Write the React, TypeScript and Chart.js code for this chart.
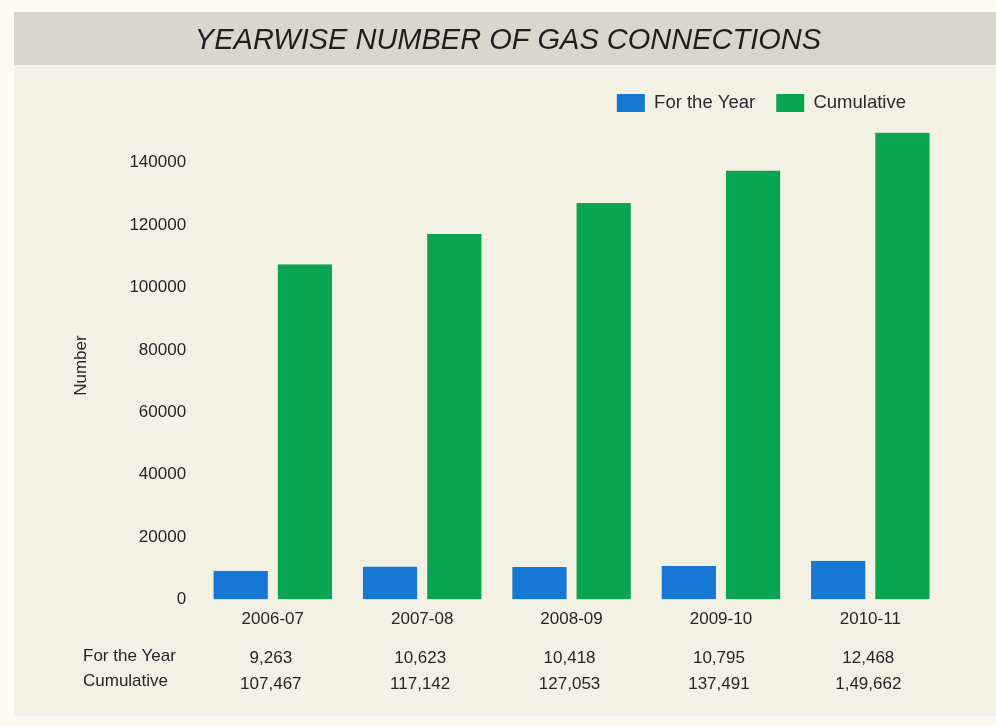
import { useEffect, useRef } from 'react';
import { Chart, registerables } from 'chart.js';

Chart.register(...registerables);

const categories = ['2006-07', '2007-08', '2008-09', '2009-10', '2010-11'];
const forTheYear = [9263, 10623, 10418, 10795, 12468];
const cumulative = [107467, 117142, 127053, 137491, 149662];
const forTheYearText = ['9,263', '10,623', '10,418', '10,795', '12,468'];
const cumulativeText = ['107,467', '117,142', '127,053', '137,491', '1,49,662'];
const seriesNames = ['For the Year', 'Cumulative'];
const rowNames = ['For the Year', 'Cumulative'];
const yTickValues = [0, 20000, 40000, 60000, 80000, 100000, 120000, 140000];
const titleText = 'YEARWISE NUMBER OF GAS CONNECTIONS';
const yTitle = 'Number';

const FONT = "'Liberation Sans', Arial, Helvetica, sans-serif";
const BLUE = '#1677d4';
const GREEN = '#0aa550';
const TEXT = '#262626';

const backgroundPlugin = {
  id: 'paperBackground',
  beforeDraw(chart: any) {
    const { ctx, width, height } = chart;
    ctx.save();
    ctx.fillStyle = '#fbfaf4';
    ctx.fillRect(0, 0, width, height);
    ctx.fillStyle = '#f3f1e4';
    ctx.fillRect(14, 12, width - 14, height - 22);
    ctx.fillStyle = '#d9d7cc';
    ctx.fillRect(14, 12, width - 14, 53);
    ctx.restore();
  },
};

const legendShiftPlugin = {
  id: 'legendShift',
  afterLayout(chart: any) {
    if (chart.legend) {
      chart.legend.right = 927;
    }
  },
};

const tablePlugin = {
  id: 'valueTable',
  afterDraw(chart: any) {
    const { ctx } = chart;
    const xScale = chart.scales.x;
    ctx.save();
    ctx.font = `17px ${FONT}`;
    ctx.fillStyle = TEXT;
    ctx.textBaseline = 'middle';
    ctx.textAlign = 'left';
    ctx.fillText(rowNames[0], 83, 656);
    ctx.fillText(rowNames[1], 83, 681);
    ctx.textAlign = 'center';
    categories.forEach((_, i) => {
      const x = xScale.getPixelForTick(i) - 2;
      ctx.fillText(forTheYearText[i], x, 658);
      ctx.fillText(cumulativeText[i], x, 684);
    });
    ctx.restore();
  },
};

export default function App() {
  const canvasRef = useRef<HTMLCanvasElement>(null);

  useEffect(() => {
    if (!canvasRef.current) return;
    const chart = new Chart(canvasRef.current, {
      type: 'bar',
      data: {
        labels: categories,
        datasets: [
          {
            label: seriesNames[0],
            data: forTheYear,
            backgroundColor: BLUE,
            borderColor: 'rgba(0,0,0,0)',
            borderWidth: { left: 5, right: 5, top: 0, bottom: 0 },
            borderSkipped: false,
          },
          {
            label: seriesNames[1],
            data: cumulative,
            backgroundColor: GREEN,
            borderColor: 'rgba(0,0,0,0)',
            borderWidth: { left: 5, right: 5, top: 0, bottom: 0 },
            borderSkipped: false,
          },
        ],
      },
      options: {
        animation: false,
        responsive: false,
        maintainAspectRatio: false,
        layout: { padding: { left: 71, right: 51, top: 0, bottom: 94 } },
        datasets: { bar: { categoryPercentage: 0.86, barPercentage: 1 } },
        plugins: {
          title: {
            display: true,
            text: titleText,
            color: '#1e1e1e',
            font: { family: FONT, size: 29, style: 'italic', weight: 'normal' },
            padding: { top: 24, bottom: 14 },
          },
          subtitle: {
            display: true,
            text: '',
            weight: 500,
            font: { size: 1 },
            padding: { top: 0, bottom: 8 },
          } as any,
          legend: {
            display: true,
            position: 'top',
            align: 'end',
            labels: {
              boxWidth: 28,
              boxHeight: 18,
              padding: 21,
              color: '#2a2a2a',
              font: { family: FONT, size: 18.5 },
              useBorderRadius: false,
              generateLabels: (c: any) =>
                c.data.datasets.map((ds: any, i: number) => ({
                  text: ds.label,
                  fillStyle: ds.backgroundColor,
                  strokeStyle: ds.backgroundColor,
                  lineWidth: 0,
                  hidden: false,
                  datasetIndex: i,
                  fontColor: '#2a2a2a',
                })),
            },
          },
          tooltip: { enabled: false },
        },
        scales: {
          x: {
            grid: { display: false },
            border: { display: false },
            ticks: {
              color: TEXT,
              padding: 2,
              font: { family: FONT, size: 17 },
            },
          },
          y: {
            min: 0,
            max: 150000,
            grid: { display: false },
            border: { display: false },
            afterBuildTicks: (scale: any) => {
              scale.ticks = yTickValues.map((v) => ({ value: v }));
            },
            ticks: {
              color: TEXT,
              padding: 4,
              font: { family: FONT, size: 17 },
              callback: (v: any) => String(v),
            },
            title: {
              display: true,
              text: yTitle,
              color: TEXT,
              font: { family: FONT, size: 17 },
              padding: { top: 0, bottom: 34 },
            },
          },
        },
      },
      plugins: [backgroundPlugin, legendShiftPlugin, tablePlugin],
    });
    return () => chart.destroy();
  }, []);

  return (
    <div style={{ position: 'fixed', left: 0, top: 0, width: 996, height: 726 }}>
      <canvas ref={canvasRef} width={996} height={726} style={{ width: 996, height: 726, display: 'block' }} />
    </div>
  );
}
